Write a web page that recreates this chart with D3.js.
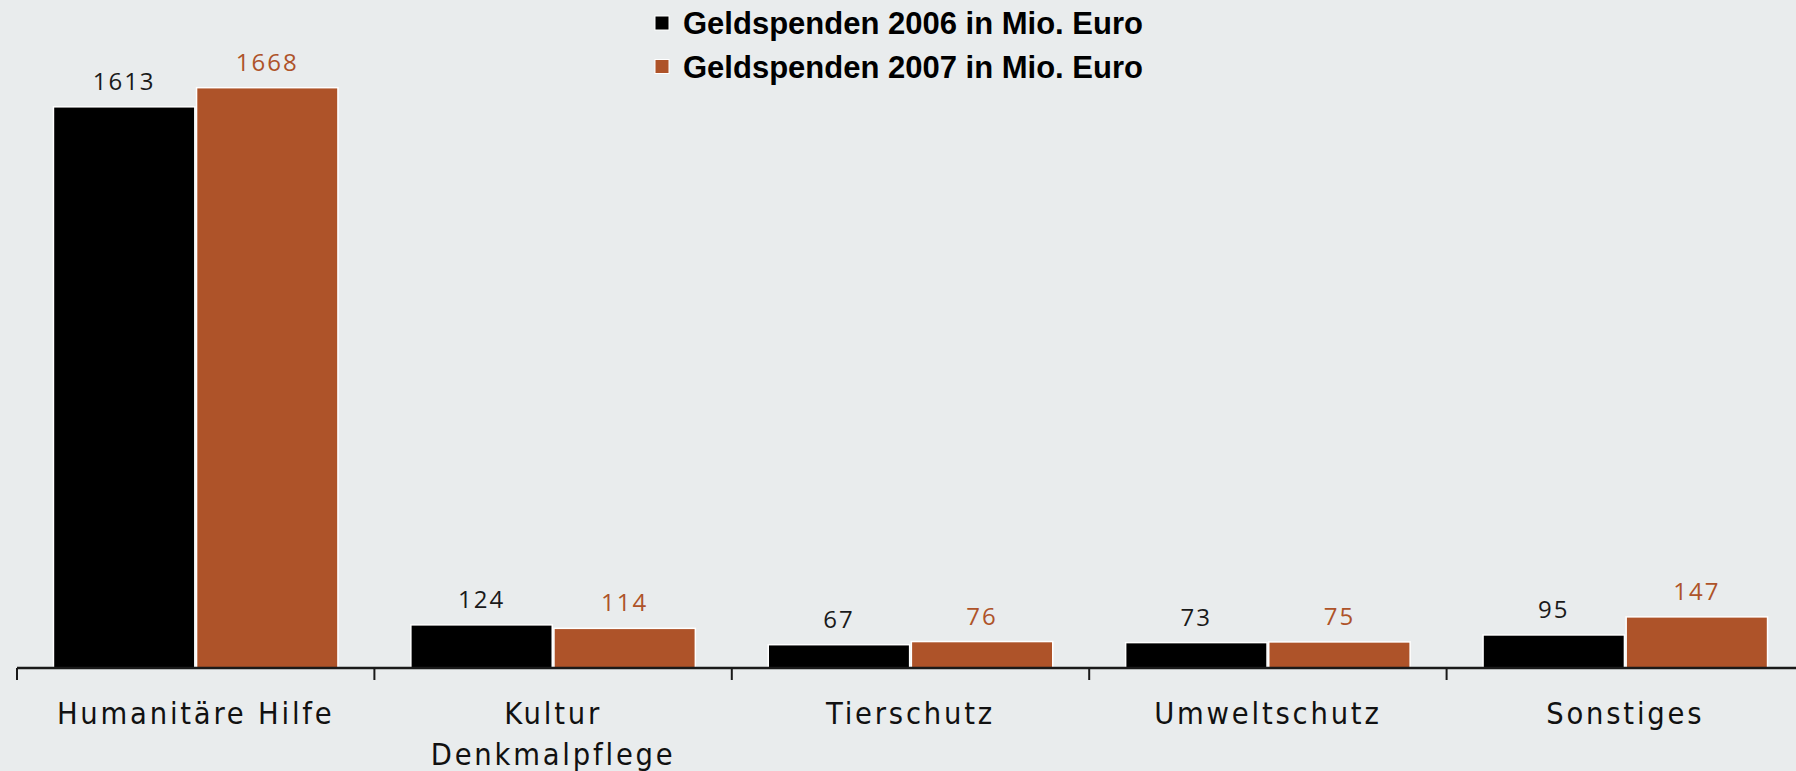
<!DOCTYPE html>
<html>
<head>
<meta charset="utf-8">
<script src="https://cdn.jsdelivr.net/npm/d3@7"></script>
<style>
  html, body { margin: 0; padding: 0; background: #e9eced; overflow: hidden; }
  svg { display: block; }
</style>
</head>
<body>
<div id="chart"></div>
<script>
// values
const categories = ["Humanitäre Hilfe", "Kultur\nDenkmalpflege", "Tierschutz", "Umweltschutz", "Sonstiges"];
const seriesNames = ["Geldspenden 2006 in Mio. Euro", "Geldspenden 2007 in Mio. Euro"];
const values2006 = [1613, 124, 67, 73, 95];
const values2007 = [1668, 114, 76, 75, 147];
const seriesColors = ["#000000", "#ae5329"];
const labelColors = ["#1a1a1a", "#ae5329"];

const W = 1796, H = 771;
const baseY = 668;

const svg = d3.select("#chart").append("svg")
  .attr("width", W)
  .attr("height", H);

svg.append("rect").attr("width", W).attr("height", H).attr("fill", "#e9eced");

const x0 = d3.scaleBand()
  .domain(categories)
  .range([17, 1804])
  .padding(0);

const x1 = d3.scaleBand()
  .domain(seriesNames)
  .range([x0.bandwidth() * 0.102, x0.bandwidth() * 0.898])
  .paddingInner(0.012);

const y = d3.scaleLinear()
  .domain([0, 1920])
  .range([baseY, 0]);

const rows = categories.map((c, i) => ({
  cat: c,
  vals: [values2006[i], values2007[i]]
}));

const groups = svg.selectAll(".grp")
  .data(rows)
  .enter().append("g")
  .attr("class", "grp")
  .attr("transform", d => `translate(${x0(d.cat)},0)`);

// bars
groups.selectAll("rect")
  .data(d => d.vals.map((v, j) => ({ key: seriesNames[j], v, j })))
  .enter().append("rect")
  .attr("x", d => x1(d.key))
  .attr("y", d => y(d.v))
  .attr("width", x1.bandwidth())
  .attr("height", d => baseY - y(d.v))
  .attr("fill", d => seriesColors[d.j])
  .attr("stroke", "#ffffff")
  .attr("stroke-width", 1.5);

// value labels
groups.selectAll(".val")
  .data(d => d.vals.map((v, j) => ({ key: seriesNames[j], v, j })))
  .enter().append("text")
  .attr("class", "val")
  .attr("x", d => x1(d.key) + x1.bandwidth() / 2)
  .attr("y", d => y(d.v) - 17)
  .attr("text-anchor", "middle")
  .style("font-family", "'Open Sans', sans-serif")
  .style("font-size", "24px")
  .style("letter-spacing", "2px")
  .attr("fill", d => labelColors[d.j])
  .text(d => d.v);

// x axis
const axis = svg.append("g")
  .attr("transform", `translate(0,${baseY})`);

axis.append("line")
  .attr("x1", x0.range()[0])
  .attr("x2", W)
  .attr("y1", 0).attr("y2", 0)
  .attr("stroke", "#1a1a1a")
  .attr("stroke-width", 2.5);

axis.selectAll(".tick")
  .data(categories)
  .enter().append("line")
  .attr("class", "tick")
  .attr("x1", d => x0(d)).attr("x2", d => x0(d))
  .attr("y1", 0).attr("y2", 12)
  .attr("stroke", "#1a1a1a")
  .attr("stroke-width", 2);

const catLabels = axis.selectAll(".cat")
  .data(categories)
  .enter().append("text")
  .attr("class", "cat")
  .attr("text-anchor", "middle")
  .attr("transform", d => `translate(${x0(d) + x0.bandwidth() / 2},56)`)
  .style("font-family", "'Liberation Sans Narrow', 'DejaVu Sans Condensed', sans-serif")
  .style("font-size", "30.5px")
  .style("letter-spacing", "2.8px")
  .attr("fill", "#111");

catLabels.selectAll("tspan")
  .data(d => d.split("\n"))
  .enter().append("tspan")
  .attr("x", 0)
  .attr("dy", (d, i) => i === 0 ? 0 : 41)
  .text(d => d);

// legend
const legend = svg.append("g")
  .attr("transform", "translate(655,16)");

const li = legend.selectAll(".li")
  .data(seriesNames)
  .enter().append("g")
  .attr("transform", (d, i) => `translate(0,${i * 43.5})`);

li.append("rect")
  .attr("width", 14).attr("height", 14)
  .attr("fill", (d, i) => seriesColors[i])
  .attr("stroke", "#ffffff")
  .attr("stroke-width", 1);

li.append("text")
  .attr("x", 28)
  .attr("y", 18)
  .style("font-family", "'Liberation Sans', Arial, sans-serif")
  .style("font-weight", "bold")
  .style("font-size", "31px")
  .attr("fill", "#000")
  .text(d => d);
</script>
</body>
</html>
